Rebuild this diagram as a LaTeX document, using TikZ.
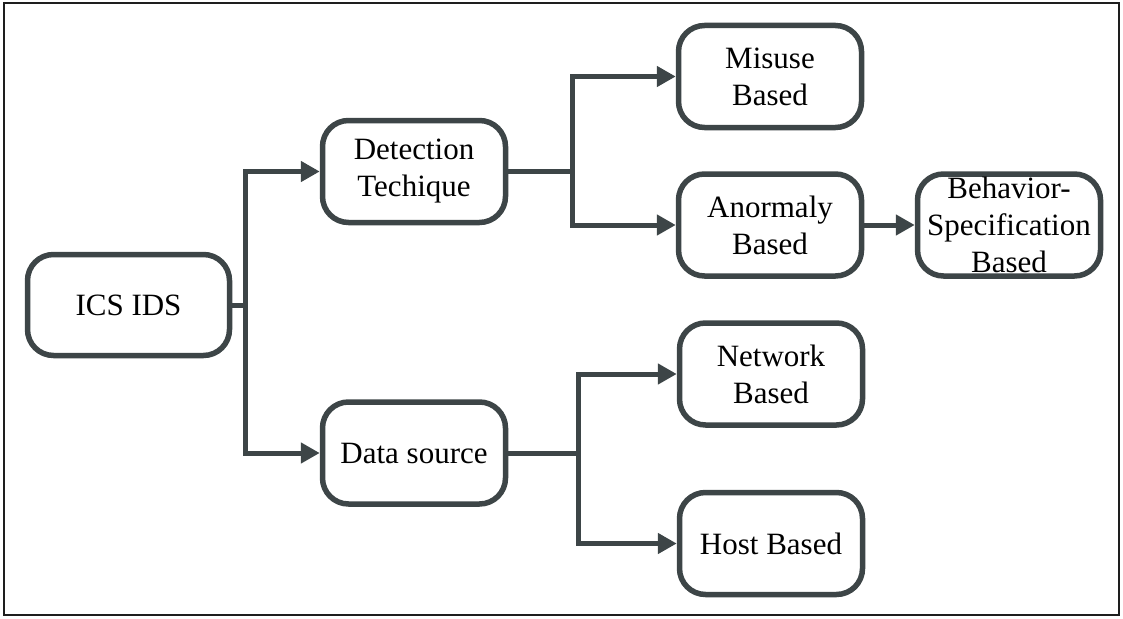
\documentclass[tikz,border=0pt]{standalone}
\usepackage{fontspec}
\setmainfont{Liberation Serif}
\newfontfamily\labelfont{Liberation Serif}
\usetikzlibrary{arrows.meta}
\definecolor{edge}{HTML}{3D4547}
\definecolor{frame}{HTML}{1E1E1E}
\tikzset{
  box/.style={draw=edge, line width=5.5pt, rounded corners=26pt, fill=white,
    minimum width=183pt, minimum height=102pt, inner sep=0pt,
    align=center, text=black,
    font=\labelfont\fontsize{31}{37}\selectfont},
  link/.style={draw=edge, line width=5pt},
  arrowlink/.style={link, -{Triangle[length=19pt,width=20pt]}}
}
\begin{document}
\begin{tikzpicture}[x=1pt,y=-1pt]
  \useasboundingbox (0,0) rectangle (1123,618);
  \draw[frame, line width=2.5pt] (4,3) rectangle (1119,615);

  % nodes of the taxonomy
  \node[box, minimum width=202pt, minimum height=101pt] (ics) at (128.5,305) {ICS IDS};
  \node[box] (det) at (414,171.5) {Detection\\Techique};
  \node[box] (src) at (414,453) {Data source};
  \node[box] (mis) at (770,76.5) {Misuse\\Based};
  \node[box] (ano) at (770,225) {Anormaly\\Based};
  \node[box] (beh) at (1009,225) {Behavior-\\Specification\\Based};
  \node[box] (net) at (771,374) {Network\\Based};
  \node[box] (host) at (771,543.5) {Host Based};

  % branch points
  \coordinate (j1) at (245,305);
  \coordinate (j2) at (572,171.5);
  \coordinate (j3) at (578,453);

  \draw[link] (ics.east) -- (j1);
  \draw[arrowlink] (j1) |- (det.west);
  \draw[arrowlink] (j1) |- (src.west);

  \draw[link] (det.east) -- (j2);
  \draw[arrowlink] (j2) |- (mis.west);
  \draw[arrowlink] (j2) |- (ano.west);

  \draw[link] (src.east) -- (j3);
  \draw[arrowlink] (j3) |- (net.west);
  \draw[arrowlink] (j3) |- (host.west);

  \draw[arrowlink] (ano.east) -- (beh.west);
\end{tikzpicture}
\end{document}
